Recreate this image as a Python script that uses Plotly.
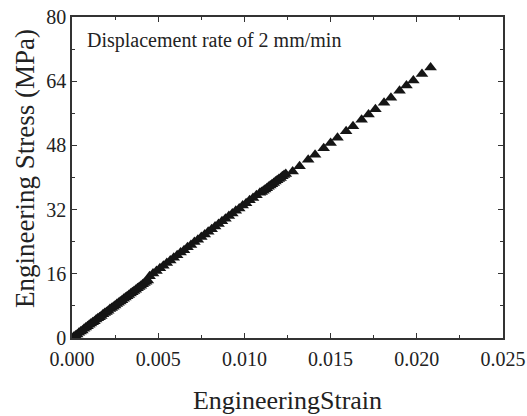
import plotly.graph_objects as go

strain = [
    0.0000, 0.0001, 0.0002, 0.0003, 0.0004, 0.0005, 0.0006, 0.0007, 0.0008, 0.0009,
    0.0010, 0.0011, 0.0012, 0.0013, 0.0014, 0.0015, 0.0016, 0.0017, 0.0018, 0.0019,
    0.0020, 0.0021, 0.0022, 0.0023, 0.0024, 0.0025, 0.0026, 0.0027, 0.0028, 0.0029,
    0.0030, 0.0031, 0.0032, 0.0033, 0.0034, 0.0035, 0.0036, 0.0037, 0.0038, 0.0039,
    0.0040, 0.0041, 0.0042, 0.0043, 0.0044,
    0.0045, 0.0047, 0.0049, 0.0051, 0.0053, 0.0055, 0.0057, 0.0059, 0.0061, 0.0063,
    0.0065, 0.0067, 0.0069, 0.0071, 0.0073, 0.0075, 0.0077, 0.0079, 0.0081, 0.0083,
    0.0085, 0.0087, 0.0089, 0.0091, 0.0093, 0.0095, 0.0097, 0.0099, 0.0101, 0.0103,
    0.0105, 0.0107, 0.0109,
    0.0110, 0.0111, 0.0112, 0.0113, 0.0114, 0.0115, 0.0116, 0.0117, 0.0118, 0.0119,
    0.0120, 0.0121, 0.0122, 0.0123, 0.0124,
    0.0128, 0.0132, 0.0137, 0.0141, 0.0146, 0.0150, 0.0154, 0.0159, 0.0163, 0.0168,
    0.0172, 0.0176, 0.0181, 0.0185, 0.0190, 0.0194, 0.0198, 0.0203, 0.0208,
]
stress = [
    0.0, 0.3, 0.6, 0.9, 1.3, 1.6, 1.9, 2.3, 2.6, 2.9,
    3.3, 3.6, 3.9, 4.2, 4.6, 4.9, 5.2, 5.5, 5.9, 6.2,
    6.5, 6.8, 7.2, 7.5, 7.8, 8.1, 8.5, 8.8, 9.1, 9.4,
    9.8, 10.1, 10.4, 10.7, 11.1, 11.4, 11.7, 12.0, 12.4, 12.7,
    13.0, 13.4, 13.7, 14.0, 14.3,
    15.4, 16.1, 16.7, 17.4, 18.0, 18.7, 19.3, 20.0, 20.6, 21.3,
    21.9, 22.6, 23.2, 23.9, 24.5, 25.2, 25.8, 26.5, 27.1, 27.8,
    28.4, 29.1, 29.7, 30.4, 31.0, 31.7, 32.3, 33.0, 33.6, 34.3,
    34.9, 35.6, 36.2,
    36.4, 36.7, 37.0, 37.3, 37.7, 38.0, 38.3, 38.6, 39.0, 39.3,
    39.6, 39.9, 40.3, 40.6, 40.9,
    41.5, 42.8, 44.4, 45.7, 47.3, 48.6, 49.9, 51.5, 52.8, 54.4,
    55.7, 57.0, 58.6, 59.9, 61.6, 62.9, 64.2, 65.8, 67.4,
]

x_ticks = [0.000, 0.005, 0.010, 0.015, 0.020, 0.025]
y_ticks = [0, 16, 32, 48, 64, 80]

FONT = "Liberation Serif, Times New Roman, serif"

fig = go.Figure()
fig.add_trace(go.Scatter(
    x=strain, y=stress, mode="markers",
    marker=dict(symbol="triangle-up", size=11, color="#151515",
                line=dict(width=0)),
    showlegend=False,
))

axis_common = dict(
    showgrid=False, zeroline=False, showline=True, linecolor="#333333", linewidth=1.5,
    mirror="allticks", ticks="inside", ticklen=5, tickwidth=1, tickcolor="#333333",
    tickfont=dict(family=FONT, size=20, color="#222222"), automargin=False,
)

fig.update_layout(
    width=527, height=416,
    margin=dict(l=72, r=24, t=17, b=78, autoexpand=False),
    paper_bgcolor="white", plot_bgcolor="white",
    font=dict(family=FONT, color="#222222"),
    xaxis=dict(
        range=[0, 0.025], tickvals=x_ticks, tickformat=".3f", ticklabelstandoff=2,
        minor=dict(dtick=0.0025, ticks="inside", ticklen=3, tickcolor="#333333"),
        title=dict(text="EngineeringStrain", font=dict(family=FONT, size=26, color="#222222"), standoff=22),
        **axis_common,
    ),
    yaxis=dict(
        range=[0, 80], tickvals=y_ticks,
        minor=dict(dtick=8, ticks="inside", ticklen=3, tickcolor="#333333"),
        **axis_common,
    ),
    annotations=[
        dict(
            text="Displacement rate of 2 mm/min", xref="paper", yref="paper",
            x=0.030, y=0.928, xanchor="left", yanchor="middle", showarrow=False,
            font=dict(family=FONT, size=20, color="#222222"),
        ),
        dict(
            text="Engineering Stress (MPa)", xref="paper", yref="paper",
            x=-0.109, y=0.5265, xanchor="center", yanchor="middle", textangle=-90,
            showarrow=False, font=dict(family=FONT, size=27, color="#222222"),
        ),
    ],
)

fig.write_html("out.html")
